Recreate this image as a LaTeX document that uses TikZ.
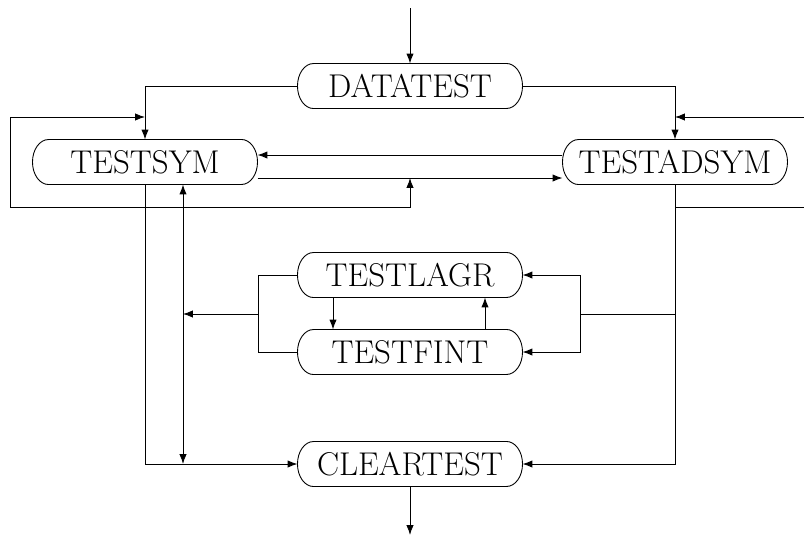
\documentclass[tikz,border=0pt]{standalone}
\usetikzlibrary{arrows.meta,calc}
% outline of a routine box: straight top and bottom, elliptic ends
\newcommand\pillbox[1]{%
  \draw ($(#1.north west)+(16,0)$) -- ($(#1.north east)+(-16,0)$)
    arc[start angle=-90, end angle=90, x radius=16, y radius=22.5]
    -- ($(#1.south west)+(16,0)$)
    arc[start angle=90, end angle=270, x radius=16, y radius=22.5]
    -- cycle;}
\begin{document}
\begin{tikzpicture}[x=0.4706pt,y=-0.4706pt,
  box/.style={outer sep=0pt, minimum width=105.9pt, minimum height=21.2pt,
    inner sep=0pt, font=\fontsize{15.5}{18}\selectfont},
  every path/.style={line width=0.42pt},
  >={Latex[length=4.6pt,width=3.4pt]}]
\useasboundingbox (0,0) rectangle (804,543);

% routines
\node[box] (data)  at (410,86)  {DATATEST};
\node[box] (sym)   at (145,162) {TESTSYM};
\node[box] (adsym) at (675,162) {TESTADSYM};
\node[box] (lagr)  at (410,275) {TESTLAGR};
\node[box] (fint)  at (410,352) {TESTFINT};
\node[box] (clear) at (410,464) {CLEARTEST};
\foreach \n in {data,sym,adsym,lagr,fint,clear} {\pillbox{\n}}

% entry and exit
\coordinate (in)  at (410,8);
\coordinate (out) at (410,535);
\draw[->] (in) -- (data);
\draw[->] (clear) -- (out);

% from DATATEST to the two symmetry tests
\draw[->] (data.west) -| (sym.north);
\draw[->] (data.east) -| (adsym.north);

% between TESTSYM and TESTADSYM
\draw[->] ($(adsym.west)+(0,-7)$) -- ($(sym.east)+(0,-7)$);
\coordinate (symlo) at ($(sym.east)+(0,16)$);
\coordinate (adlo)  at ($(adsym.west)+(0,16)$);
\draw[->] (symlo) -- (adlo);

% left feedback loop
\coordinate (la) at (145,117);
\coordinate (lb) at (10,117);
\coordinate (lc) at (10,207);
\coordinate (ld) at (410,207);
\coordinate (le) at (410,178);
\draw[<->] (la) -- (lb) -- (lc) -- (ld) -- (le);

% right feedback loop (continues beyond the frame)
\coordinate (ra) at (675,117);
\coordinate (rb) at (804,117);
\coordinate (rc) at (675,207);
\coordinate (rd) at (804,207);
\draw[->] (rb) -- (ra);
\draw (rc) -- (rd);

% TESTSYM down to CLEARTEST
\draw[->] (sym.south) |- (clear.west);
\coordinate (vb) at (183,464);
\draw[<->] (sym.south -| vb) -- (vb);

% TESTLAGR / TESTFINT pair
\coordinate (ma) at (258,275);
\coordinate (mb) at (258,352);
\coordinate (mc) at (258,314);
\coordinate (md) at (183,314);
\draw (lagr.west) -- (ma) -- (mb) -- (fint.west);
\draw[->] (mc) -- (md);
\draw[->] ($(lagr.south)+(-77,0)$) -- ($(fint.north)+(-77,0)$);
\draw[->] ($(fint.north)+(75,0)$) -- ($(lagr.south)+(75,0)$);

% TESTADSYM down to CLEARTEST and to the pair
\draw[->] (adsym.south) |- (clear.east);
\coordinate (na) at (675,314);
\coordinate (nb) at (580,314);
\draw[->] (na) -- (nb) |- (lagr.east);
\draw[->] (nb) |- (fint.east);
\end{tikzpicture}
\end{document}
